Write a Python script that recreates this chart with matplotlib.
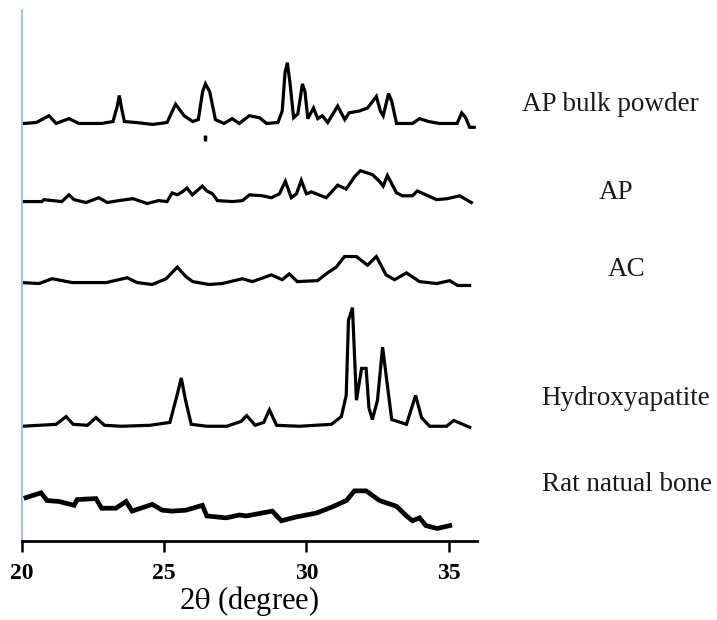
import numpy as np
import matplotlib
matplotlib.use("Agg")
import matplotlib.pyplot as plt

plt.rc("font", family=["Liberation Serif", "DejaVu Serif"])
plt.rc("mathtext", fontset="stix")

# XRD patterns, intensity (arbitrary units)
bulk_x = [20.07, 20.5, 20.95, 21.2, 21.65, 22.0, 22.8, 23.2, 23.35, 23.42, 23.5, 23.6,
          24.0, 24.6, 25.1, 25.4, 25.7, 26.0, 26.2, 26.35, 26.45, 26.6, 26.8, 27.1,
          27.39, 27.64, 27.99, 28.35, 28.6, 29.0, 29.15, 29.25, 29.33, 29.42, 29.55,
          29.7, 29.86, 29.95, 30.05, 30.25, 30.4, 30.56, 30.75, 31.1, 31.35, 31.5,
          31.87, 32.15, 32.46, 32.6, 32.7, 32.89, 33.0, 33.17, 33.73, 33.98, 34.3,
          34.68, 35.3, 35.46, 35.6, 35.74, 35.9]
bulk_y = [0, 1, 8, 0, 5, 0, 0, 2, 18, 29, 16, 2,
          1, -1, 1, 20, 8, 2, 4, 33, 41, 33, 4, 0,
          5, 0, 8, 6, 0, 1, 13, 53, 63, 43, 6,
          10, 41, 33, 5, 16, 5, 8, 1, 18, 4, 11,
          13, 16, 28, 13, 8, 31, 23, 0, 0, 5, 2,
          0, 0, 11, 6, -4, -4]

ap_x = [20.0, 20.7, 20.77, 21.4, 21.65, 21.83, 22.25, 22.7, 23.0, 23.4, 23.9, 24.4,
        24.8, 25.1, 25.28, 25.46, 25.63, 25.8, 25.99, 26.34, 26.5, 26.7, 26.87, 27.4,
        27.75, 28.0, 28.45, 28.77, 29.05, 29.26, 29.47, 29.65, 29.82, 30.0, 30.18,
        30.7, 31.1, 31.4, 31.7, 31.9, 32.32, 32.57, 32.7, 32.85, 33.17, 33.38, 33.73,
        33.9, 34.58, 34.96, 35.39, 35.8]
ap_y = [0, 0, 2, 0, 7, 2, -1, 4, -1, 1, 3, -2,
        1, 0, 9, 7, 10, 14, 7, 16, 11, 8, 1, 0,
        1, 7, 6, 4, 8, 21, 4, 8, 22, 8, 10,
        4, 17, 13, 26, 32, 28, 21, 16, 27, 9, 6, 6,
        11, 2, 3, 6, -1]

ac_x = [20.0, 20.6, 21.06, 21.76, 22.96, 23.7, 24.05, 24.58, 25.07, 25.46, 25.77, 26.0,
        26.58, 27.04, 27.75, 28.1, 28.77, 29.15, 29.4, 29.68, 30.39, 30.74, 31.05,
        31.34, 31.76, 32.15, 32.46, 32.8, 33.1, 33.52, 33.98, 34.58, 35.04, 35.32, 35.74]
ac_y = [0, -1, 4, 0, 0, 5, 0, -2, 4, 16, 6, 1,
        -2, -1, 4, 1, 8, 3, 9, 1, 2, 10, 16,
        27, 27, 18, 27, 8, 3, 10, 1, -1, 2, -3, -3]

ha_x = [20.0, 20.6, 21.2, 21.55, 21.8, 22.3, 22.6, 22.9, 23.5, 24.5, 25.2, 25.45,
        25.6, 25.75, 25.95, 26.5, 27.2, 27.7, 27.9, 28.2, 28.5, 28.7, 28.95, 29.75,
        30.88, 31.23, 31.4, 31.48, 31.62, 31.69, 31.76, 31.94, 32.1, 32.2, 32.32,
        32.5, 32.68, 32.82, 33.0, 33.52, 33.84, 34.05, 34.33, 34.93, 35.18, 35.74]
ha_y = [0, 1, 2, 10, 2, 1, 9, 1, 0, 1, 4, 32,
        50, 27, 2, 0, 0, 5, 11, 1, 4, 17, 1, 0,
        2, 10, 32, 110, 123, 75, 27, 60, 60, 19, 7,
        27, 82, 49, 7, 2, 32, 9, 0, 0, 6, -1]

bone_x = [20.14, 20.67, 20.88, 21.3, 21.83, 21.94, 22.6, 22.8, 23.3, 23.66, 23.87, 24.58,
          24.93, 25.28, 25.77, 26.34, 26.5, 27.18, 27.64, 27.89, 28.8, 29.12, 29.65,
          30.35, 30.88, 31.41, 31.69, 32.1, 32.57, 33.17, 33.52, 33.73, 33.98, 34.2,
          34.6, 35.04]
bone_y = [26, 31, 23, 22, 18, 24, 25, 15, 15, 22, 12, 19,
          13, 12, 13, 18, 7, 5, 8, 7, 12, 2, 6,
          10, 16, 23, 33, 33, 23, 17, 7, 2, 5, -3,
          -6, -3]

names = ["AP bulk powder", "AP", "AC", "Hydroxyapatite", "Rat natual bone"]
xs = [bulk_x, ap_x, ac_x, ha_x, bone_x]
ys = [bulk_y, ap_y, ac_y, ha_y, bone_y]
offsets = [413, 332, 248, 99, -1]      # vertical stacking
widths = [2.3, 2.3, 2.3, 2.3, 3.4]
label_pos = [(0.728, 0.831, "left"), (0.859, 0.689, "center"), (0.874, 0.565, "center"),
             (0.872, 0.358, "center"), (0.874, 0.218, "center")]

fig = plt.figure(figsize=(7.17, 6.2), dpi=100)
ax = fig.add_axes([0.0307, 0.1274, 0.6346, 0.857])

for x, y, off, lw in zip(xs, ys, offsets, widths):
    ax.plot(x, np.array(y) + off, color="black", lw=lw, solid_joinstyle="miter")

# peak marker under the 26.45 reflection of the bulk powder
ax.vlines(26.45, offsets[0] - 18, offsets[0] - 12, color="black", lw=2.5)

for name, (fx, fy, ha) in zip(names, label_pos):
    fig.text(fx, fy, name, ha=ha, va="center", fontsize=19.5, color="#1a1a1a")

ax.set_xlim(20, 36)
ax.set_ylim(-20, 531)
ax.set_xticks([20, 25, 30, 35])
ax.set_yticks([])
for lab in ax.get_xticklabels():
    lab.set_fontweight("bold")
ax.tick_params(axis="x", direction="out", length=8, width=1.8, labelsize=17, pad=8)
ax.spines["top"].set_visible(False)
ax.spines["right"].set_visible(False)
ax.spines["bottom"].set_linewidth(2.0)
ax.spines["left"].set_color("#9bbce3")
ax.spines["left"].set_linewidth(1.3)
ax.set_xlabel(r"2$\mathrm{\theta}$ (degree)", fontsize=22, labelpad=0)

fig.savefig("out.png", dpi=100)
